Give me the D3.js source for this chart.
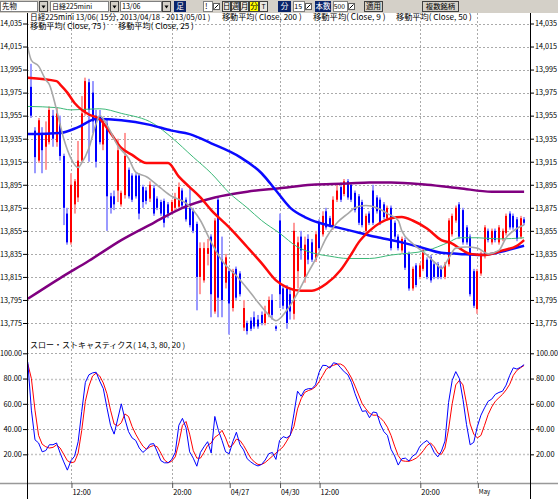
<!DOCTYPE html>
<html><head><meta charset="utf-8">
<script src="https://cdn.jsdelivr.net/npm/d3@7"></script>
<style>
html,body{margin:0;padding:0;background:#fff;}
svg{display:block;}
text{font-family:"Liberation Sans Narrow","Noto Sans CJK JP","DejaVu Sans",sans-serif;font-size:9px;fill:#000;}
</style></head><body>
<svg id="c" width="558" height="499"></svg>
<script>
// ---------- DATA ----------
const title1 = ["日経225mini 13/06( 15分, 2013/04/18 - 2013/05/01 )","移動平均( Close, 200 )","移動平均( Close, 9 )","移動平均( Close, 50 )"];
const title2 = ["移動平均( Close, 75 )","移動平均( Close, 25 )"];
const stochTitle = "スロー・ストキャスティクス( 14, 3, 80, 20 )";
const priceTicks = [14035,14015,13995,13975,13955,13935,13915,13895,13875,13855,13835,13815,13795,13775];
const stochTicks = [100,80,60,40,20];
const timeTickBars = [11,39,55,69,80,108,124];
const timeTickLabels = ["12:00","20:00","04/27","04/30","12:00","20:00","May"];

const open  = [13980,13942,13916,13940,13928,13932,13955,13932,13948,13920,13870,13845,13878,13884,13916,13958,13984,13975,13955,13955,13930,13948,13885,13885,13890,13878,13886,13908,13903,13903,13903,13893,13890,13883,13892,13883,13880,13881,13878,13872,13875,13876,13890,13882,13875,13872,13861,13815,13812,13835,13850,13785,13882,13830,13810,13820,13788,13822,13818,13771,13775,13777,13780,13778,13782,13775,13782,13795,13772,13864,13805,13805,13800,13783,13820,13850,13815,13848,13845,13830,13862,13852,13872,13866,13858,13882,13893,13887,13898,13895,13888,13885,13880,13855,13870,13890,13884,13882,13878,13866,13875,13862,13850,13838,13847,13835,13805,13825,13815,13822,13830,13832,13826,13826,13823,13815,13826,13852,13864,13878,13873,13858,13850,13820,13787,13818,13833,13855,13845,13855,13845,13848,13853,13870,13868,13865,13850,13865];
const high  = [14000,13945,13953,13945,13950,13963,13960,13962,13955,13922,13875,13905,13900,13933,13972,13988,13987,13985,13960,13960,13952,13952,13888,13890,13935,13890,13940,13910,13905,13905,13905,13895,13893,13898,13895,13885,13882,13883,13880,13882,13888,13897,13892,13884,13893,13875,13863,13845,13845,13848,13852,13866,13885,13850,13835,13822,13822,13824,13820,13795,13777,13780,13785,13782,13785,13790,13798,13800,13773,13870,13808,13808,13805,13862,13850,13855,13850,13852,13848,13855,13865,13872,13875,13868,13885,13895,13897,13900,13900,13897,13890,13887,13882,13870,13872,13895,13886,13884,13880,13877,13877,13864,13852,13850,13849,13837,13824,13827,13827,13840,13832,13834,13828,13828,13825,13828,13866,13870,13877,13880,13875,13860,13852,13822,13822,13837,13860,13857,13857,13857,13860,13857,13870,13872,13870,13867,13868,13867];
const low   = [13953,13905,13914,13905,13908,13930,13928,13928,13916,13860,13843,13843,13870,13880,13914,13955,13915,13940,13910,13930,13925,13855,13870,13873,13880,13876,13883,13883,13880,13883,13865,13875,13878,13880,13868,13873,13868,13858,13866,13870,13873,13875,13875,13863,13858,13853,13786,13800,13810,13825,13780,13783,13780,13780,13805,13765,13785,13795,13798,13768,13765,13768,13770,13770,13773,13773,13780,13778,13768,13788,13787,13770,13778,13778,13805,13830,13810,13826,13828,13828,13838,13850,13856,13858,13856,13880,13880,13885,13882,13880,13871,13860,13858,13853,13860,13860,13870,13860,13865,13864,13838,13848,13838,13836,13821,13803,13803,13806,13813,13820,13813,13810,13813,13813,13813,13813,13824,13850,13862,13848,13843,13843,13798,13788,13783,13816,13831,13845,13843,13845,13843,13846,13851,13856,13856,13846,13848,13860];
const close = [13955,13919,13951,13925,13940,13960,13935,13957,13920,13875,13845,13895,13898,13916,13957,13985,13960,13950,13915,13932,13950,13885,13875,13878,13925,13888,13920,13885,13882,13885,13870,13880,13881,13895,13870,13875,13870,13862,13870,13880,13883,13893,13877,13865,13860,13855,13815,13840,13840,13840,13800,13864,13797,13795,13832,13792,13820,13797,13800,13788,13768,13770,13772,13772,13775,13783,13795,13782,13770,13800,13790,13775,13785,13855,13845,13838,13843,13830,13830,13852,13840,13868,13858,13860,13882,13890,13882,13898,13884,13882,13873,13862,13860,13868,13862,13862,13872,13862,13867,13875,13840,13850,13840,13848,13823,13805,13822,13808,13825,13838,13815,13812,13815,13815,13815,13826,13864,13868,13875,13850,13845,13845,13800,13790,13820,13835,13858,13847,13855,13847,13858,13855,13868,13858,13858,13848,13866,13862];

// moving averages: [bar index, price]
const ma200 = [[-1,13796],[8,13814],[16,13829],[25,13847],[34,13862],[42,13875],[51,13884],[60,13889],[69,13892],[78,13895],[88,13896],[94,13897],[100,13897],[110,13895],[119,13892],[128,13889],[137,13889]];
const ma75  = [[-1,13939],[8,13940],[13,13945],[18,13952],[25,13951],[33,13947],[39,13942],[44,13939],[50,13931],[58,13919],[64,13905],[68,13890],[72,13875],[76,13867],[80,13862],[85,13858],[89,13855],[94,13851],[97,13849],[103,13845],[108,13841],[114,13836],[119,13835],[125,13834],[128,13835],[132,13838],[137,13842]];
const ma50  = [[-1,13963],[7,13962],[11,13960],[19,13961],[25,13957],[34,13948],[39,13936],[45,13919],[50,13905],[55,13888],[60,13875],[64,13864],[69,13853],[74,13841],[78,13836],[83,13833],[88,13831],[94,13831],[100,13834],[110,13838],[116,13845],[119,13849],[124,13849],[130,13848],[137,13849]];
const ma25  = [[-1,13988],[7,13985],[8,13982],[10,13975],[12,13966],[14,13960],[16,13956],[19,13952],[22,13940],[25,13927],[28,13921],[32,13914],[36,13914],[38,13914],[41,13902],[44,13893],[47,13884],[50,13873],[55,13858],[60,13841],[64,13827],[68,13812],[71,13806],[75,13803],[78,13803],[82,13809],[86,13821],[89,13835],[91,13845],[94,13855],[97,13862],[100,13866],[103,13867],[106,13864],[110,13857],[114,13847],[117,13844],[119,13840],[122,13835],[126,13834],[128,13835],[131,13838],[135,13842],[137,13847]];
const ma9   = [[-1,14014],[0,14003],[2,13998],[4,13986],[5,13982],[7,13960],[9,13935],[11,13918],[13,13910],[14,13914],[16,13927],[18,13948],[19,13955],[21,13947],[24,13929],[27,13918],[29,13906],[32,13902],[36,13892],[39,13885],[43,13879],[47,13864],[50,13845],[53,13829],[57,13816],[60,13805],[63,13793],[66,13782],[68,13777],[71,13786],[74,13801],[77,13819],[80,13836],[82,13849],[85,13862],[88,13870],[90,13875],[93,13877],[96,13875],[99,13870],[102,13864],[103,13855],[106,13844],[110,13834],[113,13825],[114,13822],[116,13831],[118,13840],[121,13841],[124,13840],[127,13835],[130,13838],[132,13849],[135,13857],[137,13860]];

// slow stochastics, bars -1..137
const stochK = [93,55,31.5,29,22,23,27.6,27.6,29,21,14,7.5,15,18.5,30,54,77,83,84.5,85,78,72,57,43,36,48,60,48,38,33,31,25,21.5,24,28,28.5,22,15,13.3,13.3,15.8,21.5,43,48.5,41,22,17,10.6,21.5,26,30,21,50,39,31,22,20.5,30,37.5,27.6,23.5,16.5,14,12,10.8,12,15.5,20.5,21.5,16,31,34,33,35,52,70,66,71,72,72,75,85,90.5,90.3,88.3,92.5,91.8,88.5,85.3,83,77,68,60.5,54,54.5,49,53.5,53,44,38,35,24,18.7,11.5,16.5,17,14.7,18.6,20.5,26.3,29,31,27.5,21.5,18,22.5,30.5,61,78.5,85.5,80,63.5,43.5,27.5,29.5,42,51,56.8,62,63.7,67.5,69,70,74.8,82.5,88.5,87.5,89,91];
const stochD = [91.7,80,55,35,28,26,25,25.5,27.5,25,20,15,13.3,14,21,39,62,74,82,84.3,82,76.5,68,55,44,42.5,45,52,50,42,36,31,26.5,24,26,27,26,21,15.5,13.3,14.5,18,29,43,46,36,23,17,17,21.5,27,29,33.5,35.5,39,33,25.5,27.5,32,31,27,22,17,14,12,12,13.5,16,18.5,21,23.5,26,30.5,35.5,42,56,64,69,70.5,71.5,73.5,77.5,82.5,87.5,89.5,90.5,91.5,91.5,89.7,85.5,80.5,74,67,60,56,52.5,51,51,49,46,41.5,35,26.5,19,15,14.5,14.5,15.5,17,19.5,23,27,29,26,21,20,25,40,60,75,78.6,75,60,44,36,33,35,43,51.5,57.5,62,64.8,67.5,71,75.5,82.5,86.5,88.5,90.4];

// ---------- SETUP ----------
const W = 558, H = 499, AXL = 27, AXR = 530, TOP = 13, BOT = 483;
const svg = d3.select("#c");
const x  = d3.scaleLinear().domain([0, 137]).range([31.4, 524.1]);
const y  = d3.scaleLinear().domain([13775, 14035]).range([323, 23.5]);
const ys = d3.scaleLinear().domain([0, 100]).range([479.6, 353.3]);

// target width: half-width glyph 3.6px, full-width 7.2px (as in the reference)
function tw(s){ let w = 0; for (const ch of s) w += ch.codePointAt(0) > 0x2000 ? 7.2 : 3.6; return w; }
// shrink the real font size until the natural text width fits the target
function fit(sel, base){
  sel.each(function(){
    const t = d3.select(this); const b = base || 9;
    t.style("font-size", b + "px");
    const target = tw(t.text()) + 0.5;
    const w = this.getComputedTextLength();
    if (w > target) t.style("font-size", (b * target / w).toFixed(2) + "px");
  });
}
function label(g, px, py, s, anchor, color, base){
  return g.append("text").attr("x", px).attr("y", py).attr("dy","0.34em")
    .attr("text-anchor", anchor || "start").style("fill", color || "#000").text(s).call(fit, base);
}

svg.append("rect").attr("width", W).attr("height", H).attr("fill", "#fff");

// ---------- TOOLBAR ----------
const tb = svg.append("g");
tb.append("rect").attr("x",0).attr("y",0).attr("width",W).attr("height",TOP).attr("fill","#d4d0c8");
function field(x0, w, s, right){
  tb.append("rect").attr("x",x0+0.5).attr("y",1.5).attr("width",w).attr("height",10).attr("fill","#fff").attr("stroke","#808080");
  label(tb, right ? x0 + w - 2 : x0 + 2, 6.5, s, right ? "end" : "start", "#000", 8);
}
function drop(x0){
  tb.append("rect").attr("x",x0+0.5).attr("y",1.5).attr("width",8).attr("height",10).attr("fill","#d4d0c8").attr("stroke","#404040");
  tb.append("path").attr("d",`M${x0+2.5},5.5L${x0+6.5},5.5L${x0+4.5},8.5Z`).attr("fill","#000");
}
function navy(x0, w, s){
  tb.append("rect").attr("x",x0).attr("y",1).attr("width",w).attr("height",11).attr("fill","#0a246a");
  label(tb, x0 + w/2, 6.5, s, "middle", "#fff", 8);
}
function btn(x0, w, s, fill){
  tb.append("rect").attr("x",x0+0.5).attr("y",1.5).attr("width",w).attr("height",10).attr("fill",fill||"#e8e6e0").attr("stroke","#404040");
  label(tb, x0 + w/2 + 0.5, 6.5, s, "middle", "#000", 8);
}
function icon(x0){
  tb.append("rect").attr("x",x0+0.5).attr("y",3.5).attr("width",6).attr("height",6).attr("fill","#fff").attr("stroke","#606060");
  tb.append("path").attr("d",`M${x0+1.5},8.5L${x0+5.5},4.5`).attr("stroke","#000").attr("fill","none");
}
field(0, 37, "先物"); drop(39);
field(50, 58, "日経225mini"); drop(110);
field(120, 41, "13/06"); drop(162);
navy(174, 12, "足");
field(203, 9, "!"); icon(213);
btn(222, 8, "日"); btn(231, 8, "週"); btn(240, 8, "月"); btn(249, 9, "分", "#ffff00"); btn(259, 8, "T");
navy(278, 13, "分");
field(293, 11, "15", true); icon(305);
navy(315, 16, "本数");
field(333, 14, "500", true); icon(348);
btn(364, 18, "適用", "#d4d0c8");
btn(422, 36, "複数銘柄", "#d4d0c8");

// ---------- GRID ----------
const grid = svg.append("g").attr("stroke","#aaa").attr("stroke-dasharray","2,2").attr("fill","none");
priceTicks.forEach(v => grid.append("line").attr("x1",AXL).attr("x2",AXR).attr("y1",Math.round(y(v))+0.5).attr("y2",Math.round(y(v))+0.5));
stochTicks.forEach(v => {
  const l = grid.append("line").attr("x1",AXL).attr("x2",AXR).attr("y1",Math.round(ys(v))+0.5).attr("y2",Math.round(ys(v))+0.5);
  if (v === 80 || v === 20) l.attr("stroke-dasharray",null).attr("stroke","#c4c4c4").attr("stroke-width",1.5);
});
timeTickBars.forEach(b => grid.append("line").attr("x1",Math.round(x(b))+0.5).attr("x2",Math.round(x(b))+0.5).attr("y1",TOP).attr("y2",BOT));

// ---------- CLIP ----------
svg.append("clipPath").attr("id","cp").append("rect").attr("x",AXL+0.5).attr("y",TOP).attr("width",AXR-AXL-1).attr("height",BOT-TOP);

// ---------- CANDLES ----------
const cg = svg.append("g").attr("clip-path","url(#cp)");
const bars = d3.range(open.length);
cg.selectAll("rect.w").data(bars).join("rect").attr("class","w")
  .attr("x", i => Math.round(x(i)) - 1).attr("width", 2)
  .attr("y", i => y(high[i])).attr("height", i => Math.max(1, y(low[i]) - y(high[i])))
  .attr("fill", i => close[i] >= open[i] ? "#ff9a9a" : "#9a9aff");
cg.selectAll("rect.b").data(bars).join("rect").attr("class","b")
  .attr("x", i => Math.round(x(i)) - 1).attr("width", 2)
  .attr("y", i => y(Math.max(open[i], close[i]))).attr("height", i => Math.max(1.5, Math.abs(y(open[i]) - y(close[i]))))
  .attr("fill", i => close[i] >= open[i] ? "#ff0000" : "#0000ff");

// ---------- MOVING AVERAGES ----------
const maLine = d3.line().x(d => x(d[0])).y(d => y(d[1])).curve(d3.curveMonotoneX);
[[ma200,"#800080",2.5],[ma50,"#3cb878",1],[ma75,"#0a0aff",2.5],[ma25,"#ff0a0a",2.5],[ma9,"#a8a8a8",1.6]].forEach(([d,c,w]) => {
  cg.append("path").attr("d", maLine(d)).attr("fill","none").attr("stroke",c).attr("stroke-width",w).attr("stroke-linejoin","round");
});

// ---------- STOCHASTICS ----------
const sLine = d3.line().x((d,i) => x(i - 1)).y(d => ys(d));
cg.append("path").attr("d", sLine(stochD)).attr("fill","none").attr("stroke","#ff0000").attr("stroke-width",1);
cg.append("path").attr("d", sLine(stochK)).attr("fill","none").attr("stroke","#0000ff").attr("stroke-width",1);

// ---------- AXES ----------
function styleAxis(g){ g.select(".domain").remove(); g.selectAll("line").attr("stroke","#000"); g.selectAll("text").style("font-family",null).call(fit, 9); }
svg.append("g").attr("transform",`translate(${AXL},0)`)
  .call(d3.axisLeft(y).tickValues(priceTicks).tickFormat(d3.format(",")).tickSize(4).tickPadding(1)).call(styleAxis);
svg.append("g").attr("transform",`translate(${AXR+1},0)`)
  .call(d3.axisRight(y).tickValues(priceTicks).tickFormat(d3.format(",")).tickSize(3).tickPadding(1)).call(styleAxis);
svg.append("g").attr("transform",`translate(${AXL},0)`)
  .call(d3.axisLeft(ys).tickValues(stochTicks).tickFormat(d3.format(".2f")).tickSize(4).tickPadding(1)).call(styleAxis);
svg.append("g").attr("transform",`translate(${AXR+1},0)`)
  .call(d3.axisRight(ys).tickValues(stochTicks).tickFormat(d3.format(".2f")).tickSize(3).tickPadding(2)).call(styleAxis);

// bottom time axis
svg.append("line").attr("x1",0).attr("x2",W).attr("y1",BOT+0.5).attr("y2",BOT+0.5).attr("stroke","#999").attr("stroke-width",1.5);
const xa = svg.append("g").attr("transform",`translate(0,${BOT})`)
  .call(d3.axisBottom(x).tickValues(timeTickBars).tickFormat((d,i) => timeTickLabels[i]).tickSize(5).tickPadding(2));
xa.select(".domain").remove();
xa.selectAll("line").attr("stroke","#555").attr("transform","translate(0.5,0)");
xa.selectAll("text").attr("text-anchor","start").attr("x",1).style("font-family",null).call(fit, 9);

// vertical axis lines
svg.append("line").attr("x1",AXL+0.5).attr("x2",AXL+0.5).attr("y1",TOP).attr("y2",H).attr("stroke","#000");
svg.append("line").attr("x1",AXR+0.5).attr("x2",AXR+0.5).attr("y1",TOP).attr("y2",H).attr("stroke","#000");

// ---------- TITLES ----------
const tg = svg.append("g");
const t1x = [30, 222, 313, 396], t2x = [30, 118];
title1.forEach((s, i) => label(tg, t1x[i], 17, s, "start", "#000", 8.5));
title2.forEach((s, i) => label(tg, t2x[i], 26.5, s, "start", "#000", 8.5));
label(tg, 30, 345, stochTitle, "start", "#000", 8.5);
</script>
</body></html>
